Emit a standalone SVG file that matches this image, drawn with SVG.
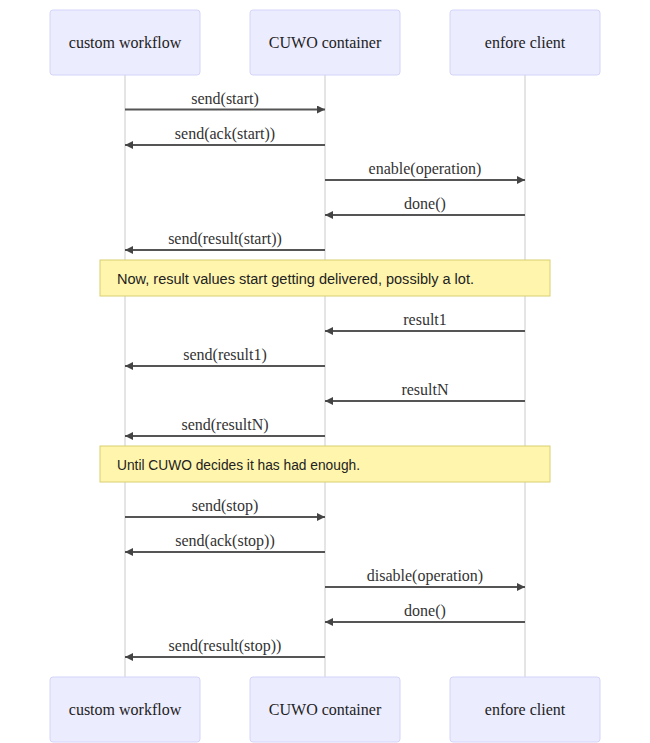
<svg xmlns="http://www.w3.org/2000/svg" width="650" height="743" viewBox="0 0 650 743">
<defs>
<style>
.actor{fill:#ECECFF;stroke:#D4D4FA;stroke-width:1}
.atext{font-size:16px;fill:#222;text-anchor:middle}
.life{stroke:#DDDDDD;stroke-width:1.5}
.msg{stroke:#555;stroke-width:2;fill:none;marker-end:url(#ah)}
.mtext{font-size:16px;fill:#333;text-anchor:middle}
.note{fill:#FFF5AD;stroke:#D9CF70;stroke-width:1}
.ntext{font-size:14px;fill:#222}
</style>
<marker id="ah" viewBox="0 0 10 10" refX="10" refY="5" markerWidth="5" markerHeight="4" orient="auto" markerUnits="strokeWidth">
<path d="M0,0 L10,5 L0,10 z" fill="#444"/>
</marker>
</defs>
<rect width="650" height="743" fill="#fff"/>
<g id="lifelines">
<line class="life" x1="125" y1="75" x2="125" y2="677"/>
<line class="life" x1="325" y1="75" x2="325" y2="677"/>
<line class="life" x1="525" y1="75" x2="525" y2="677"/>
</g>
<g font-family="'Liberation Serif', 'Times New Roman', serif">
<g id="actor-cw-top"><rect class="actor" x="50" y="10" width="150" height="65" rx="3"/><text class="atext" x="125" y="48">custom workflow</text></g>
<g id="actor-cuwo-top"><rect class="actor" x="250" y="10" width="150" height="65" rx="3"/><text class="atext" x="325" y="48">CUWO container</text></g>
<g id="actor-ec-top"><rect class="actor" x="450" y="10" width="150" height="65" rx="3"/><text class="atext" x="525" y="48">enfore client</text></g>
<g id="actor-cw-bottom"><rect class="actor" x="50" y="677" width="150" height="65" rx="3"/><text class="atext" x="125" y="715">custom workflow</text></g>
<g id="actor-cuwo-bottom"><rect class="actor" x="250" y="677" width="150" height="65" rx="3"/><text class="atext" x="325" y="715">CUWO container</text></g>
<g id="actor-ec-bottom"><rect class="actor" x="450" y="677" width="150" height="65" rx="3"/><text class="atext" x="525" y="715">enfore client</text></g>
</g>
<g font-family="'Liberation Sans', Arial, sans-serif">
<g id="note1"><rect class="note" x="100" y="260" width="450" height="36"/><text class="ntext" x="117" y="284" textLength="357" lengthAdjust="spacingAndGlyphs">Now, result values start getting delivered, possibly a lot.</text></g>
<g id="note2"><rect class="note" x="100" y="446" width="450" height="36"/><text class="ntext" x="117" y="470" textLength="243" lengthAdjust="spacingAndGlyphs">Until CUWO decides it has had enough.</text></g>
</g>
<g id="connectors" font-family="'Liberation Serif', 'Times New Roman', serif">
<line class="msg" x1="125" y1="109.5" x2="325" y2="109.5"/><text class="mtext" x="225" y="104">send(start)</text>
<line class="msg" x1="325" y1="145" x2="125" y2="145"/><text class="mtext" x="225" y="139">send(ack(start))</text>
<line class="msg" x1="325" y1="180" x2="525" y2="180"/><text class="mtext" x="425" y="174">enable(operation)</text>
<line class="msg" x1="525" y1="215" x2="325" y2="215"/><text class="mtext" x="425" y="209">done()</text>
<line class="msg" x1="325" y1="250" x2="125" y2="250"/><text class="mtext" x="225" y="244">send(result(start))</text>
<line class="msg" x1="525" y1="331" x2="325" y2="331"/><text class="mtext" x="425" y="325">result1</text>
<line class="msg" x1="325" y1="366" x2="125" y2="366"/><text class="mtext" x="225" y="360">send(result1)</text>
<line class="msg" x1="525" y1="401" x2="325" y2="401"/><text class="mtext" x="425" y="395">resultN</text>
<line class="msg" x1="325" y1="436" x2="125" y2="436"/><text class="mtext" x="225" y="430">send(resultN)</text>
<line class="msg" x1="125" y1="517" x2="325" y2="517"/><text class="mtext" x="225" y="511">send(stop)</text>
<line class="msg" x1="325" y1="552" x2="125" y2="552"/><text class="mtext" x="225" y="546">send(ack(stop))</text>
<line class="msg" x1="325" y1="587" x2="525" y2="587"/><text class="mtext" x="425" y="581">disable(operation)</text>
<line class="msg" x1="525" y1="622" x2="325" y2="622"/><text class="mtext" x="425" y="616">done()</text>
<line class="msg" x1="325" y1="657" x2="125" y2="657"/><text class="mtext" x="225" y="651">send(result(stop))</text>
</g>
</svg>
